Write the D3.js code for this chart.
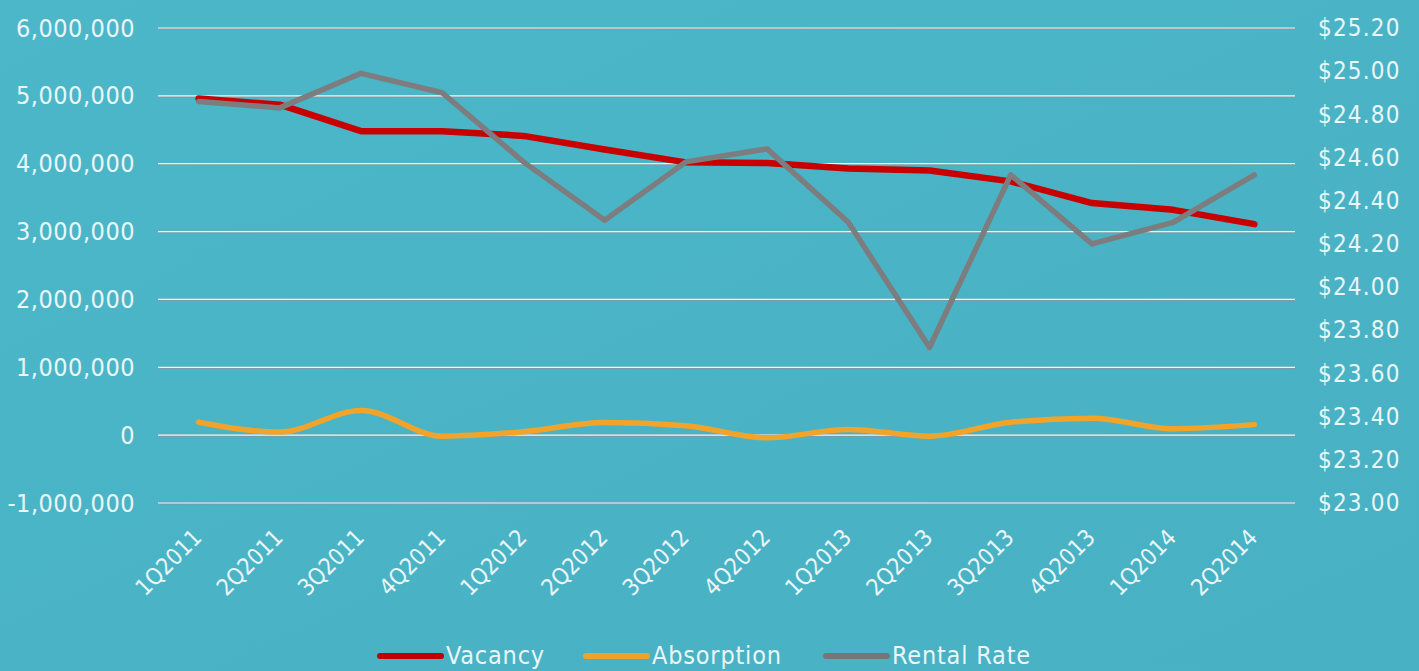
<!DOCTYPE html>
<html>
<head>
<meta charset="utf-8">
<script src="https://cdn.jsdelivr.net/npm/d3@7"></script>
<style>
  html, body { margin: 0; padding: 0; background: #4ab4c6; overflow: hidden; }
  svg { display: block; }
</style>
</head>
<body>
<svg id="chart" width="1419" height="671"></svg>
<script>
const quarters = ["1Q2011", "2Q2011", "3Q2011", "4Q2011", "1Q2012", "2Q2012", "3Q2012",
                  "4Q2012", "1Q2013", "2Q2013", "3Q2013", "4Q2013", "1Q2014", "2Q2014"];
const vacancy = [4960000, 4870000, 4480000, 4480000, 4410000, 4210000, 4020000,
                 4010000, 3930000, 3900000, 3740000, 3420000, 3320000, 3110000];
const absorption = [190000, 45000, 365000, -15000, 50000, 185000, 140000,
                    -40000, 85000, -15000, 190000, 250000, 95000, 155000];
const rentalRate = [24.86, 24.83, 24.99, 24.90, 24.58, 24.31, 24.58,
                    24.64, 24.30, 23.72, 24.52, 24.20, 24.30, 24.52];
const leftTicks = [-1000000, 0, 1000000, 2000000, 3000000, 4000000, 5000000, 6000000];
const rightTicks = [23.0, 23.2, 23.4, 23.6, 23.8, 24.0, 24.2, 24.4, 24.6, 24.8, 25.0, 25.2];

const svg = d3.select("#chart");
const width = +svg.attr("width");
const height = +svg.attr("height");
const margin = {top: 28, right: 124, bottom: 168, left: 158};
const innerWidth = width - margin.left - margin.right;
const innerHeight = height - margin.top - margin.bottom;
const fontFamily = "DejaVu Sans Condensed, DejaVu Sans, sans-serif";
const textColor = "#eaf6f8";

// background
const grad = svg.append("defs").append("linearGradient")
    .attr("id", "bg").attr("x1", 0).attr("y1", 0).attr("x2", 1).attr("y2", 1);
grad.append("stop").attr("offset", 0).attr("stop-color", "#4bb7c9");
grad.append("stop").attr("offset", 1).attr("stop-color", "#48b1c3");
svg.append("rect").attr("width", width).attr("height", height).attr("fill", "url(#bg)");

const chart = svg.append("g")
    .attr("transform", "translate(" + margin.left + "," + margin.top + ")");

const x = d3.scalePoint()
    .domain(quarters)
    .range([0, innerWidth])
    .padding(0.5);

const yLeft = d3.scaleLinear()
    .domain([-1000000, 6000000])
    .range([innerHeight, 0]);

const yRight = d3.scaleLinear()
    .domain([23.0, 25.2])
    .range([innerHeight, 0]);

// gridlines
chart.append("g")
    .selectAll("line")
    .data(leftTicks)
    .enter()
    .append("line")
    .attr("x1", 0)
    .attr("x2", innerWidth)
    .attr("y1", d => yLeft(d) + 0.5)
    .attr("y2", d => yLeft(d) + 0.5)
    .attr("stroke", "#7e9aa3")
    .attr("stroke-width", 2.2);
chart.append("g")
    .selectAll("line")
    .data(leftTicks)
    .enter()
    .append("line")
    .attr("x1", 0)
    .attr("x2", innerWidth)
    .attr("y1", d => yLeft(d))
    .attr("y2", d => yLeft(d))
    .attr("stroke", "#f2f7f8")
    .attr("stroke-width", 1.2);

function styleAxis(g, size) {
    g.attr("font-size", size).attr("font-family", fontFamily);
    g.select(".domain").remove();
    g.selectAll("text").attr("fill", textColor);
}

// left axis (plain hyphen for the minus sign)
const fmt = d => d3.format(",")(d).replace("\u2212", "-");
const leftAxis = chart.append("g")
    .call(d3.axisLeft(yLeft).tickValues(leftTicks).tickFormat(fmt).tickSize(0).tickPadding(23));
styleAxis(leftAxis, 25);
leftAxis.selectAll("text").attr("letter-spacing", 0.5);

// right axis
const rightAxis = chart.append("g")
    .attr("transform", "translate(" + innerWidth + ",0)")
    .call(d3.axisRight(yRight).tickValues(rightTicks).tickFormat(d => "$" + d3.format(".2f")(d)).tickSize(0).tickPadding(23));
styleAxis(rightAxis, 24);
rightAxis.selectAll("text").attr("letter-spacing", 1.2);

// x axis labels
const xAxis = chart.append("g")
    .attr("transform", "translate(0," + innerHeight + ")")
    .call(d3.axisBottom(x).tickSize(0).tickPadding(0));
styleAxis(xAxis, 23);
xAxis.selectAll("text")
    .attr("text-anchor", "end")
    .attr("dy", 0)
    .attr("transform", "translate(4,36) rotate(-45)");

// lines
const vacancyLine = d3.line()
    .x((d, i) => x(quarters[i]))
    .y(d => yLeft(d));
const absorptionLine = d3.line()
    .x((d, i) => x(quarters[i]))
    .y(d => yLeft(d))
    .curve(d3.curveMonotoneX);
const rentalLine = d3.line()
    .x((d, i) => x(quarters[i]))
    .y(d => yRight(d));

chart.append("path")
    .datum(vacancy)
    .attr("d", vacancyLine)
    .attr("fill", "none")
    .attr("stroke", "#c80000")
    .attr("stroke-width", 6.5)
    .attr("stroke-linejoin", "round")
    .attr("stroke-linecap", "round");

chart.append("path")
    .datum(absorption)
    .attr("d", absorptionLine)
    .attr("fill", "none")
    .attr("stroke", "#f2a42a")
    .attr("stroke-width", 5.5)
    .attr("stroke-linejoin", "round")
    .attr("stroke-linecap", "round");

chart.append("path")
    .datum(rentalRate)
    .attr("d", rentalLine)
    .attr("fill", "none")
    .attr("stroke", "#7d7d7f")
    .attr("stroke-width", 5.5)
    .attr("stroke-linejoin", "round")
    .attr("stroke-linecap", "round");

// legend
const legendItems = [
    {name: "Vacancy", color: "#c00000", x: 378},
    {name: "Absorption", color: "#f0a22a", x: 584},
    {name: "Rental Rate", color: "#767678", x: 824}
];
const legend = svg.append("g")
    .attr("font-family", fontFamily)
    .attr("font-size", 25);
legendItems.forEach(item => {
    const g = legend.append("g").attr("transform", "translate(" + item.x + ",656)");
    g.append("line")
        .attr("x1", 2).attr("x2", 63)
        .attr("stroke", item.color)
        .attr("stroke-width", 6)
        .attr("stroke-linecap", "round");
    g.append("text")
        .attr("x", 68)
        .attr("y", 8)
        .attr("fill", textColor)
        .attr("letter-spacing", 0.8)
        .text(item.name);
});
</script>
</body>
</html>
